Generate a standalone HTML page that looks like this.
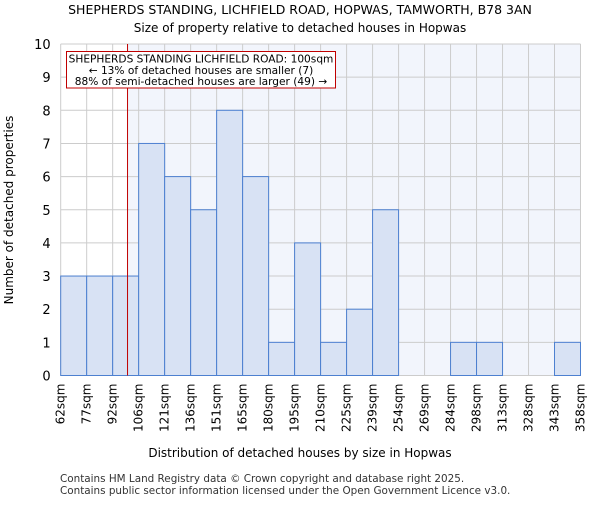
<!DOCTYPE html>
<html><head><meta charset="utf-8"><style>body{margin:0;background:#fff}svg{font-family:"DejaVu Sans","Liberation Sans",sans-serif}</style></head>
<body>
<svg id="chart" width="600" height="500">
<text x="300" y="14" text-anchor="middle" font-size="12.5">SHEPHERDS STANDING, LICHFIELD ROAD, HOPWAS, TAMWORTH, B78 3AN</text>
<text x="300" y="32" text-anchor="middle" font-size="12">Size of property relative to detached houses in Hopwas</text>
<g id="plot"></g>
<text x="300" y="457" text-anchor="middle" font-size="12">Distribution of detached houses by size in Hopwas</text>
<text transform="translate(13,210) rotate(-90)" text-anchor="middle" font-size="12">Number of detached properties</text>
<text x="60" y="482" font-size="10.4" fill="#333">Contains HM Land Registry data © Crown copyright and database right 2025.</text>
<text x="60" y="494" font-size="10.4" fill="#333">Contains public sector information licensed under the Open Government Licence v3.0.</text>
</svg>
<script>
const categories=["62sqm","77sqm","92sqm","106sqm","121sqm","136sqm","151sqm","165sqm","180sqm","195sqm","210sqm","225sqm","239sqm","254sqm","269sqm","284sqm","298sqm","313sqm","328sqm","343sqm","358sqm"];
const counts=[3,3,3,7,6,5,8,6,1,4,1,2,5,0,0,1,1,0,0,1];
const yTicks=[0,1,2,3,4,5,6,7,8,9,10];
const binEdges=[62,77,92,106,121,136,151,165,180,195,210,225,239,254,269,284,298,313,328,343,358];
const propertySize=100;
const NS="http://www.w3.org/2000/svg";
const L=60.7,R=580.5,T=44,B=375.5,yMax=10;
const n=counts.length,bw=(R-L)/n;
const xIdx=i=>L+i*bw;
const y=v=>B-(v/yMax)*(B-T);
function xVal(v){for(let i=0;i<binEdges.length-1;i++){if(v>=binEdges[i]&&v<=binEdges[i+1])return xIdx(i)+(v-binEdges[i])/(binEdges[i+1]-binEdges[i])*bw;}return L;}
const g=document.getElementById('plot');
function mk(t,a){const e=document.createElementNS(NS,t);for(const k in a)e.setAttribute(k,a[k]);g.appendChild(e);return e;}
const rx=xVal(propertySize);
let e=mk('rect',{x:rx,y:T,width:R-rx,height:B-T,fill:'#f2f5fc'});


for(let i=0;i<=n;i++){e=mk('line',{x1:xIdx(i),x2:xIdx(i),y1:T,y2:B,stroke:'#cccccc','stroke-width':1});

}
yTicks.forEach(v=>{e=mk('line',{x1:L,x2:R,y1:y(v),y2:y(v),stroke:'#cccccc','stroke-width':1});


const t=mk('text',{x:L-10,y:y(v)+5,'text-anchor':'end','font-size':13});t.textContent=v;

});
counts.forEach((c,i)=>{if(c<=0)return;e=mk('rect',{x:xIdx(i),y:y(c),width:bw,height:B-y(c),fill:'#d8e2f4',stroke:'#4d80d0','stroke-width':1});

});
categories.forEach((c,i)=>{const x=xIdx(i)+4,yy=B+8;const t=mk('text',{x:x,y:yy,'text-anchor':'end','font-size':12,transform:`rotate(-90 ${x} ${yy})`});t.textContent=c;

});
e=mk('line',{x1:rx,x2:rx,y1:T,y2:B,stroke:'#c00000','stroke-width':1});


e=mk('rect',{x:66.5,y:51.5,width:269,height:36.5,fill:'#fff',stroke:'#c00000','stroke-width':1});


["SHEPHERDS STANDING LICHFIELD ROAD: 100sqm","← 13% of detached houses are smaller (7)","88% of semi-detached houses are larger (49) →"].forEach((s,i)=>{const t=mk('text',{x:201,y:62.5+i*11.3,'text-anchor':'middle','font-size':10.6});t.textContent=s;

});
</script>
</body></html>
